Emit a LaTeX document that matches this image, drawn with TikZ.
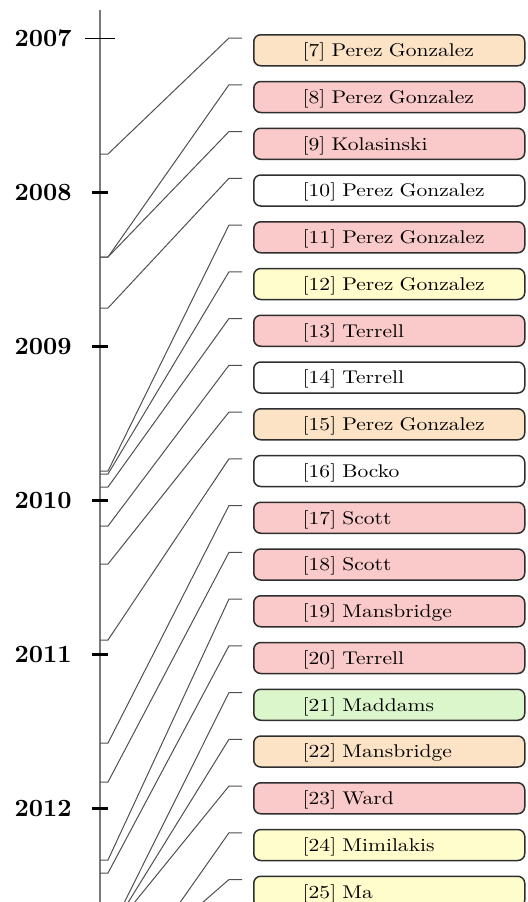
\documentclass[tikz,border=0pt]{standalone}
\usepackage{fontspec}
\usetikzlibrary{calc}
\newfontfamily\entryfont{lmroman10-regular.otf}[FakeStretch=1.17]
\newfontfamily\yearfont{lmroman10-bold.otf}

\definecolor{entrypeach}{HTML}{FDE3C6}
\definecolor{entryred}{HTML}{FAC9C9}
\definecolor{entryyellow}{HTML}{FFFDCB}
\definecolor{entrygreen}{HTML}{DCF6CB}
\definecolor{axisgray}{HTML}{7A7A7A}
\definecolor{linkgray}{HTML}{505050}
\definecolor{boxedge}{HTML}{2E2E2E}

\tikzset{
  entry/.style={draw=boxedge, line width=0.75pt, rounded corners=3.5pt,
    anchor=north west, minimum width=135.5pt, minimum height=15.5pt,
    text width=135.5pt, inner xsep=0pt, inner ysep=0pt, align=left,
    text height=6.3pt, text depth=0pt,
    font=\entryfont\fontsize{9.2pt}{11pt}\selectfont,
    execute at begin node=\hspace*{24.5pt}},
  year/.style={anchor=east, inner sep=0pt, text height=8pt, text depth=0pt,
    font=\yearfont\fontsize{12.4pt}{14pt}\selectfont},
  tick/.style={line width=1.3pt, black},
  link/.style={linkgray, line width=0.5pt},
}

\begin{document}
\begin{tikzpicture}[x=0.5pt, y=-0.5pt]
\useasboundingbox (0,0) rectangle (527,902);
\clip (0,0) rectangle (527,902);

% time axis
\coordinate (axtop) at (100,10);
\coordinate (axbot) at (100,1200);
\draw[axisgray, line width=0.8pt] (axtop) -- (axbot);

% years: 154 px per year, 2007 at y = 38.3
\foreach \yr [count=\i from 0] in {2007,...,2012} {
  \coordinate (y\yr) at (100, 38.3+154*\i);
  \node[year] (l\yr) at (72, 38.3+154*\i) {\yr};
}
\draw[black, line width=0.6pt] ($(y2007)+(-15,0)$) -- ($(y2007)+(15,0)$);
\foreach \yr in {2008,...,2012}
  \draw[tick] ($(y\yr)+(-8,0)$) -- ($(y\yr)+(8,0)$);

% entries
\foreach \k/\txt/\col [count=\i from 0] in {
   7/{[7] Perez Gonzalez}/entrypeach,
   8/{[8] Perez Gonzalez}/entryred,
   9/{[9] Kolasinski}/entryred,
  10/{[10] Perez Gonzalez}/white,
  11/{[11] Perez Gonzalez}/entryred,
  12/{[12] Perez Gonzalez}/entryyellow,
  13/{[13] Terrell}/entryred,
  14/{[14] Terrell}/white,
  15/{[15] Perez Gonzalez}/entrypeach,
  16/{[16] Bocko}/white,
  17/{[17] Scott}/entryred,
  18/{[18] Scott}/entryred,
  19/{[19] Mansbridge}/entryred,
  20/{[20] Terrell}/entryred,
  21/{[21] Maddams}/entrygreen,
  22/{[22] Mansbridge}/entrypeach,
  23/{[23] Ward}/entryred,
  24/{[24] Mimilakis}/entryyellow,
  25/{[25] Ma}/entryyellow}
  \node[entry, fill=\col] (b\k) at (253, 34+46.75*\i) {\txt};

% dates on the axis
\foreach \k/\d in {7/154, 8/257, 9/257, 10/308, 11/471, 12/474, 13/487,
    14/526, 15/564, 16/640, 17/743, 18/782, 19/860, 20/873,
    21/935, 22/935, 23/935, 24/1005, 25/985}
  \coordinate (t\k) at (100,\d);

% links from dates to entries
\foreach \k in {7,...,25}
  \draw[link] (t\k) -- ++(8,0) -- ($(b\k.north west)+(-24,4)$) -- ++(13,0);
\end{tikzpicture}
\end{document}
